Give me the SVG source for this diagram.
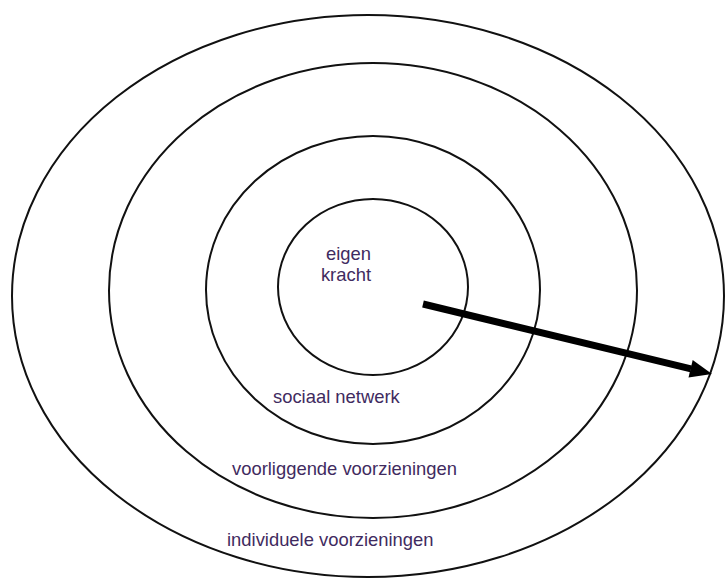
<svg xmlns="http://www.w3.org/2000/svg" width="728" height="587" viewBox="0 0 728 587">
<style>
.ring{fill:none;stroke:#111;stroke-width:2}
.lbl{font-family:"Liberation Sans",Arial,sans-serif;font-size:18.4px;fill:#3f2b60}
</style>
<rect width="728" height="587" fill="#fff"/>
<g id="individuele">
<ellipse class="ring" cx="368" cy="296" rx="356" ry="281"/>
<text class="lbl" x="227" y="546">individuele voorzieningen</text>
</g>
<g id="voorliggende">
<ellipse class="ring" cx="373" cy="290.5" rx="264" ry="227.5"/>
<text class="lbl" x="232" y="475">voorliggende voorzieningen</text>
</g>
<g id="sociaal">
<ellipse class="ring" cx="373" cy="290" rx="167" ry="154"/>
<text class="lbl" x="273" y="403">sociaal netwerk</text>
</g>
<g id="eigen">
<ellipse class="ring" cx="373" cy="287" rx="95" ry="88"/>
<text class="lbl" x="371" y="260" text-anchor="end">eigen</text>
<text class="lbl" x="371" y="281" text-anchor="end">kracht</text>
</g>
<g id="connectors">
<line x1="423" y1="304" x2="691" y2="368.8" stroke="#000" stroke-width="7"/>
<polygon points="712,374 688.5,377.5 692.7,360.1" fill="#000"/>
</g>
</svg>
